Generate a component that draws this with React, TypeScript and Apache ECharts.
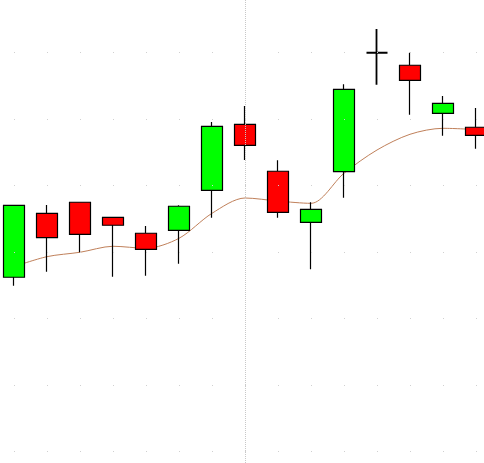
import React, { useEffect, useRef } from "react";
import * as echarts from "echarts";

const categories = [0, 1, 2, 3, 4, 5, 6, 7, 8, 9, 10, 11, 12, 13, 14];
// [open, close, low, high]
const opens = [93.1, 97.91, 98.74, 97.61, 96.41, 96.63, 99.64, 104.6, 101.07, 97.23, 101.04, 109.98, 109.04, 105.43, 104.38];
const closes = [98.51, 96.08, 96.33, 97.01, 95.2, 98.44, 104.45, 103.02, 97.98, 98.21, 107.23, 109.98, 107.91, 106.18, 103.77];
const lows = [92.47, 93.52, 94.98, 93.14, 93.22, 94.12, 97.58, 101.92, 97.58, 93.7, 99.08, 107.58, 105.32, 103.74, 102.77];
const highs = [98.55, 98.53, 98.76, 97.63, 96.95, 98.51, 104.77, 105.98, 101.89, 98.74, 107.61, 111.77, 109.98, 106.73, 105.83];
const movingAverage = [93.9, 94.65, 94.98, 95.43, 95.28, 96.03, 97.91, 99.06, 98.83, 98.66, 100.92, 102.67, 103.85, 104.3, 104.21];
const gridLevels = [80, 85, 90, 95, 100, 105, 110];
const markerIndex = 7;

export default function App() {
  const ref = useRef<HTMLDivElement>(null);
  useEffect(() => {
    if (!ref.current) return;
    const chart = echarts.init(ref.current, null, { renderer: "svg" });
    const candleData = categories.map((c, i) => {
      const item: any = { value: [c, opens[i], closes[i], lows[i], highs[i]] };
      if (opens[i] === closes[i]) {
        item.itemStyle = {
          color: "#000",
          color0: "#000",
          borderColor: "#000",
          borderColor0: "#000",
          borderWidth: 1.8,
        };
      }
      return item;
    });
    chart.setOption({
      animation: false,
      backgroundColor: "#ffffff",
      grid: { left: 0, right: 0, top: 0, bottom: 0, containLabel: false },
      xAxis: {
        type: "value",
        min: -14 / 33,
        max: -14 / 33 + 484 / 33,
        axisLine: { show: false },
        axisTick: { show: false },
        axisLabel: { show: false },
        splitLine: { show: false },
      },
      yAxis: {
        type: "value",
        min: 95 - 211 / 13.3,
        max: 95 + 252 / 13.3,
        axisLine: { show: false },
        axisTick: { show: false },
        axisLabel: { show: false },
        splitLine: { show: false },
      },
      series: [
        {
          type: "line",
          data: [],
          silent: true,
          markLine: {
            silent: true,
            symbol: ["none", "none"],
            label: { show: false },
            lineStyle: { color: "#d0d0d0", width: 1, type: [1, 32], dashOffset: 19 },
            data: gridLevels.map((v) => ({ yAxis: v })),
          },
        },
        {
          type: "candlestick",
          data: candleData,
          encode: { x: 0, y: [1, 2, 3, 4] },
          barWidth: 22,
          itemStyle: {
            color: "#00ff00",
            color0: "#ff0000",
            borderColor: "#000000",
            borderColor0: "#000000",
            borderWidth: 1.2,
          },
          markLine: {
            silent: true,
            symbol: ["none", "none"],
            label: { show: false },
            lineStyle: { color: "#c8c8c8", type: "dotted", width: 1 },
            data: [{ xAxis: markerIndex }],
          },
          z: 3,
        },
        {
          type: "line",
          data: categories.map((c, i) => [c, movingAverage[i]]),
          smooth: 0.3,
          showSymbol: false,
          symbol: "none",
          lineStyle: { color: "#c0805a", width: 1 },
          z: 2,
        },
      ],
    });
    return () => chart.dispose();
  }, []);
  return (
    <div
      ref={ref}
      style={{ position: "fixed", left: 0, top: 0, width: 484, height: 463, background: "#fff" }}
    />
  );
}
